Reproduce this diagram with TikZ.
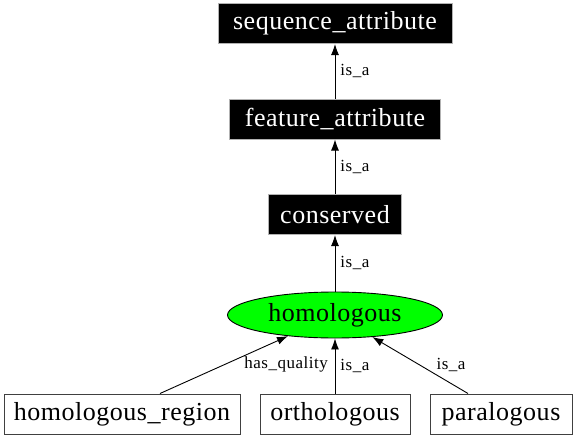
\documentclass[tikz,border=0pt]{standalone}
\usepackage{fontspec}
\newfontfamily\nodefont{Liberation Serif}[LetterSpace=2]
\newfontfamily\labelfont{Liberation Serif}[LetterSpace=3]
\usetikzlibrary{arrows.meta,shapes.geometric}

\tikzset{
  term/.style={draw=black!30, fill=black, text=white, font=\nodefont\fontsize{26}{28}\selectfont,
    inner xsep=8pt, minimum height=40pt, line width=1pt},
  leaf/.style={draw=black!75, fill=white, text=black, font=\nodefont\fontsize{26}{28}\selectfont,
    inner xsep=8pt, minimum height=40pt, line width=1pt},
  focus/.style={ellipse, draw=black, fill=green, font=\nodefont\fontsize{26}{28}\selectfont,
    minimum width=215pt, minimum height=46pt, inner sep=0pt, line width=0.9pt},
  isa/.style={-{Latex[length=11pt,width=8pt]}, black, line width=0.9pt},
  elabel/.style={font=\labelfont\fontsize{17}{19}\selectfont, inner sep=1pt}
}

\begin{document}
\begin{tikzpicture}[x=1pt,y=-1pt]
        \useasboundingbox (0,0) rectangle (576,439);
        \node[term, minimum width=234pt] (seqattr) at (335,23.5) {sequence\_attribute};
        \node[term, minimum width=211pt] (featattr) at (335,119) {feature\_attribute};
        \node[term, minimum width=133pt] (conserved) at (335,214.5) {conserved};
        \node[focus] (homologous) at (335,315) {homologous};
        \node[leaf, minimum width=236pt] (homreg) at (122,414) {homologous\_region};
        \node[leaf, minimum width=150pt] (ortho) at (335,414) {orthologous};
        \node[leaf, minimum width=142pt] (para) at (501,414) {paralogous};
        % upward is_a chain
        \draw[isa] (featattr) -- (seqattr) node[elabel, midway, anchor=west, xshift=4pt] (l1) {is\_a};
        \draw[isa] (conserved) -- (featattr) node[elabel, midway, anchor=west, xshift=4pt] (l2) {is\_a};
        \draw[isa] (homologous) -- (conserved) node[elabel, midway, anchor=west, xshift=4pt] (l3) {is\_a};
        % children of homologous
        \draw[isa] ([xshift=38pt]homreg.north) -- (homologous) node[elabel, midway, anchor=west, xshift=19pt] (l4) {has\_quality};
        \draw[isa] (ortho) -- (homologous) node[elabel, midway, anchor=west, xshift=4pt] (l5) {is\_a};
        \draw[isa] ([xshift=-33pt]para.north) -- (homologous) node[elabel, midway, anchor=west, xshift=15pt] (l6) {is\_a};
    \end{tikzpicture}
\end{document}
